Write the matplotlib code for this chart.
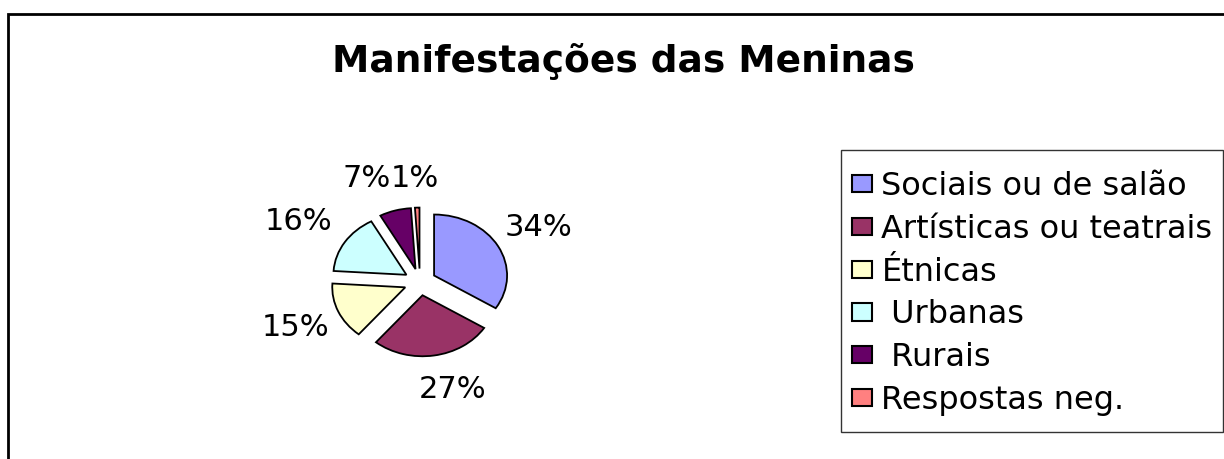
import math
import matplotlib.pyplot as plt
from matplotlib.patches import Rectangle

labels = ['Sociais ou de salão', 'Artísticas ou teatrais', 'Étnicas',
          ' Urbanas', ' Rurais', 'Respostas neg.']
values = [34, 27, 15, 16, 7, 1]
colors = ['#9999FF', '#993366', '#FFFFCC', '#CCFFFF', '#660066', '#FF8080']

plt.rcParams['font.family'] = ['DejaVu Sans']

W, H = 1224, 459
fig = plt.figure(figsize=(W / 100, H / 100), dpi=100)

# outer chart frame (cut off on right and bottom like the source)
fig.patches.append(Rectangle((8 / W, -0.1), 1.2, (H - 14) / H + 0.1,
                             transform=fig.transFigure, fill=False,
                             edgecolor='black', linewidth=2))

fig.text(623 / W, 1 - 61 / H, 'Manifestações das Meninas', ha='center',
         va='center', fontsize=27, fontweight='bold')

# pie axes; source is stretched horizontally, so aspect is left free
ax = fig.add_axes([274 / W, 55 / H, 292 / W, 244 / H])
wedges, texts = ax.pie(values, colors=colors, startangle=90, counterclock=False,
                       explode=[0.22] * len(values),
                       wedgeprops=dict(edgecolor='black', linewidth=1.3),
                       labels=[f'{v}%' for v in values], labeldistance=None)
ax.set_aspect('auto')
ax.set_xlim(-2, 2)
ax.set_ylim(-2, 2)

# percentage labels around the pie; the two small ones sit side by side on top
nudge = [(0.0, 0.0), (0.15, 0.08), (0.0, 0.0), (-0.1, 0.0)]
ang = 90.0
for i, v in enumerate(values):
    span = v / sum(values) * 360
    mid = math.radians(ang - span / 2)
    ang -= span
    if i == 4:
        ax.text(-0.40, 1.70, f'{v}%', ha='right', va='center', fontsize=22)
    elif i == 5:
        ax.text(-0.40, 1.70, f'{v}%', ha='left', va='center', fontsize=22)
    else:
        x = 1.86 * math.cos(mid) + nudge[i][0]
        y = 1.86 * math.sin(mid) + nudge[i][1]
        ax.text(x, y, f'{v}%', ha='center', va='center', fontsize=22)

# legend box drawn separately so its padding can match the source
fig.patches.append(Rectangle((841 / W, 1 - 432 / H), (1223 - 841) / W, 282 / H,
                             transform=fig.transFigure, fill=False,
                             edgecolor='#333333', linewidth=1))
leg = fig.legend(wedges, labels, loc='upper left',
                 bbox_to_anchor=(852 / W, 1 - 171 / H), borderaxespad=0,
                 fontsize=23, frameon=False, labelspacing=0.37,
                 handlelength=0.62, handleheight=0.45, handletextpad=0.3,
                 borderpad=0)
for h in leg.legend_handles:
    h.set_edgecolor('black')
    h.set_linewidth(1.5)

fig.savefig('out.png', dpi=100)
